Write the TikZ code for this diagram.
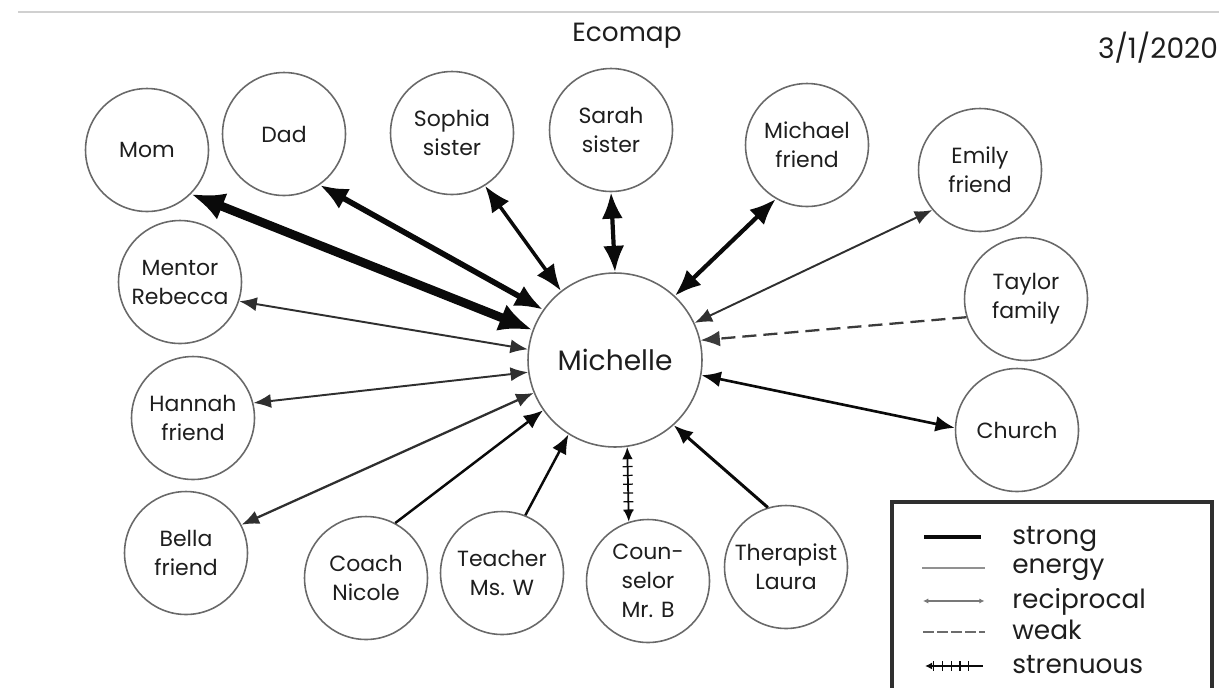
\documentclass[tikz,border=0pt]{standalone}
\usepackage{fontspec}
\setmainfont{Poppins}
\usepackage{tikz}
\usetikzlibrary{arrows.meta,positioning,decorations.markings}
\definecolor{ecoink}{RGB}{10,10,10}
\definecolor{ecoring}{RGB}{105,105,105}
\definecolor{ecotext}{RGB}{30,30,30}
\definecolor{ecorule}{RGB}{208,208,208}

\begin{document}
\begin{tikzpicture}[
    x=0.02cm, y=-0.02cm,
    person/.style={circle, draw=ecoring, line width=0.9pt, minimum size=2.46cm,
                   inner sep=0pt, align=center, text=ecotext,
                   font=\fontsize{12.5}{16.5}\selectfont},
    hub/.style={person, minimum size=3.48cm, font=\fontsize{16}{19}\selectfont},
    heading/.style={inner sep=0pt, text=ecotext, font=\fontsize{15}{17}\selectfont},
    legendtext/.style={anchor=base west, inner sep=0pt, text=ecotext,
                       font=\fontsize{15}{17}\selectfont},
    strongline/.style={draw=ecoink, line width=5pt,
                       arrows={Latex[length=19pt,width=16pt]-Latex[length=19pt,width=16pt]}},
    firmline/.style={draw=ecoink, line width=3.2pt,
                     arrows={Latex[length=16pt,width=13pt]-Latex[length=16pt,width=13pt]}},
    midline/.style={draw=ecoink, line width=2.4pt,
                    arrows={Latex[length=15pt,width=12pt]-Latex[length=15pt,width=12pt]}},
    steadyline/.style={draw=ecoink, line width=1.5pt,
                       arrows={Latex[length=11pt,width=9pt]-Latex[length=11pt,width=9pt]}},
    thinline/.style={draw=ecoink!85, line width=1.1pt,
                     arrows={Latex[length=10pt,width=8pt]-Latex[length=10pt,width=8pt]}},
    towardline/.style={draw=ecoink, line width=1.4pt,
                       arrows={-Latex[length=11pt,width=9pt]}},
    weakline/.style={draw=ecoink!80, line width=1.3pt, dash pattern=on 8pt off 4pt,
                     arrows={-Latex[length=11pt,width=9pt]}},
    strenuousline/.style={draw=ecoink, line width=1pt,
                          arrows={Latex[length=7pt,width=6pt]-Latex[length=7pt,width=6pt]},
                          postaction={decorate, decoration={markings,
                              mark=between positions 0.15 and 0.85 step 5pt with
                              {\draw[-, ecoink, line width=0.7pt] (0,-2.8pt) -- (0,2.8pt);}}}}
]
\useasboundingbox (0,0) rectangle (1219,687);

% header
\draw[ecorule, line width=1.6pt] (18,12) -- (1219,12);
\node[heading] (title) at (627,36) {Ecomap};
\node[heading, font=\fontsize{16}{18}\selectfont] (date) at (1158,48) {3/1/2020};

% people
\node[hub] (michelle) at (615,360) {Michelle};
\node[person] (mom) at (147,150) {Mom};
\node[person] (dad) at (284,134) {Dad};
\node[person] (sophia) at (452,133) {Sophia\\sister};
\node[person] (sarah) at (611,130) {Sarah\\sister};
\node[person] (michael) at (807,145) {Michael\\friend};
\node[person] (emily) at (980,170) {Emily\\friend};
\node[person] (taylor) at (1026,299) {Taylor\\family};
\node[person] (church) at (1017,430) {Church};
\node[person] (mentor) at (180,282) {Mentor\\Rebecca};
\node[person] (hannah) at (193,418) {Hannah\\friend};
\node[person] (bella) at (186,553) {Bella\\friend};
\node[person] (coach) at (366,578) {Coach\\Nicole};
\node[person] (teacher) at (502,573) {Teacher\\Ms. W};
\node[person] (counselor) at (648,581) {Coun-\\selor\\Mr. B};
\node[person] (therapist) at (786,567) {Therapist\\Laura};

% ties
\draw[strongline] (mom.-45) -- (michelle.160);
\draw[firmline] (dad.-55) -- (michelle.145);
\draw[midline, line width=2pt] (sophia.-58) -- (michelle.128);
\draw[midline] (sarah.-90) -- (michelle.90);
\draw[midline] (michael.-120) -- (michelle.47);
\draw[thinline] (emily.-140) -- (michelle.25);
\draw[weakline] (taylor.-163) -- (michelle.13);
\draw[steadyline] (church.178) -- (michelle.-10);
\draw[thinline] (mentor.-18) -- (michelle.173);
\draw[thinline] (hannah.14) -- (michelle.-172);
\draw[thinline, line width=1.3pt] (bella.27) -- (michelle.-158);
\draw[towardline] (coach.62) -- (michelle.-145);
\draw[towardline] (teacher.68) -- (michelle.-122);
\draw[strenuousline] (counselor.108) -- (michelle.-82);
\draw[towardline, line width=1.7pt] (therapist.107) -- (michelle.-48);

% legend
\draw[ecoink!85, line width=1.8pt] (892,700) |- (1212,502) -- (1212,700);
\node[legendtext] (lstrong) at (1012,544) {strong};
\node[legendtext] (lenergy) at (1012,573) {energy};
\node[legendtext] (lrecip) at (1012,608) {reciprocal};
\node[legendtext] (lweak) at (1012,639) {weak};
\node[legendtext] (lstren) at (1012,673) {strenuous};
\draw[ecoink, line width=2.6pt] ([xshift=-1.76cm, yshift=4pt]lstrong.base west) -- ([xshift=-0.62cm, yshift=4pt]lstrong.base west);
\draw[ecoink!45, line width=0.9pt] ([xshift=-1.8cm, yshift=3pt]lenergy.base west) -- ([xshift=-0.55cm, yshift=3pt]lenergy.base west);
\draw[ecoink!55, line width=0.8pt, arrows={Latex[length=3pt,width=3pt]-Latex[length=3pt,width=3pt]}]
    ([xshift=-1.78cm, yshift=4pt]lrecip.base west) -- ([xshift=-0.55cm, yshift=4pt]lrecip.base west);
\draw[ecoink!60, line width=0.8pt, dash pattern=on 6pt off 2pt]
    ([xshift=-1.78cm, yshift=4pt]lweak.base west) -- ([xshift=-0.55cm, yshift=4pt]lweak.base west);
\draw[strenuousline, arrows={Latex[length=4pt,width=4pt]-}]
    ([xshift=-1.74cm, yshift=4pt]lstren.base west) -- ([xshift=-0.58cm, yshift=4pt]lstren.base west);
\end{tikzpicture}
\end{document}
